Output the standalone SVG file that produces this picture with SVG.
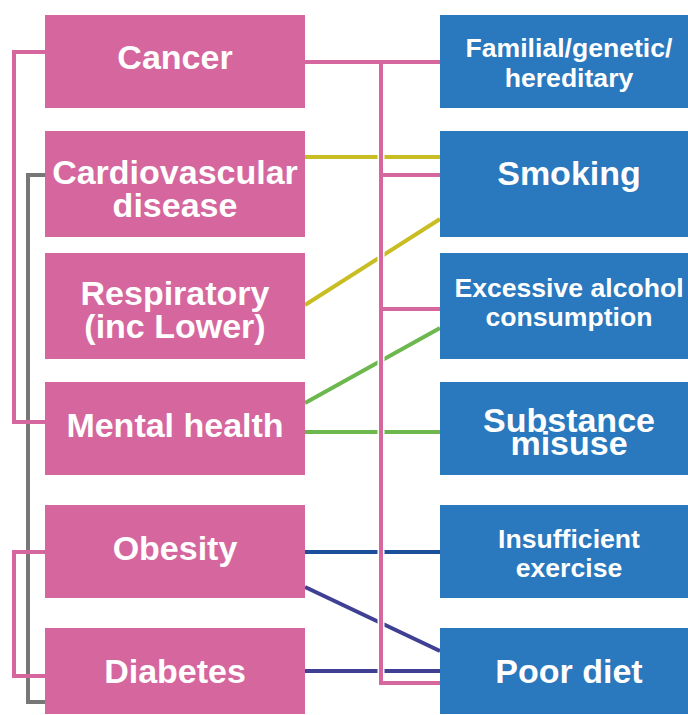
<svg xmlns="http://www.w3.org/2000/svg" width="688" height="715" viewBox="0 0 688 715">
<style>
.l{fill:#d5679e}
.r{fill:#2a78bd}
text{fill:#fff;font-family:"Liberation Sans",Arial,sans-serif;font-weight:bold;text-anchor:middle}
.b{font-size:34px}
.s{font-size:26.6px}
.c{fill:none;stroke-width:4}
.pk{stroke:#d5679e}
.pw{stroke:#fff;stroke-width:7}
</style>
<rect width="688" height="715" fill="#fff"/>
<g id="connectors">
<path class="c" stroke="#777" d="M45,175H28V702H45"/>
<path class="c pk" d="M45,52H14V422H45"/>
<path class="c pk" d="M45,552H14V676H45"/>
<line class="c" stroke="#c8bd22" x1="305" y1="157" x2="440" y2="157"/>
<line class="c" stroke="#c8bd22" x1="305" y1="305" x2="440" y2="219"/>
<line class="c" stroke="#6cb84f" x1="305" y1="403" x2="440" y2="328"/>
<line class="c" stroke="#6cb84f" x1="305" y1="432" x2="440" y2="432"/>
<line class="c" stroke="#1b4f9c" x1="305" y1="552" x2="440" y2="552"/>
<line class="c" stroke="#3f3f93" x1="305" y1="587" x2="440" y2="651"/>
<line class="c" stroke="#3f3f93" x1="305" y1="671" x2="440" y2="671"/>
<path class="c pw" d="M381,62V683H440M381,175H440M381,309H440"/>
<path class="c pk" d="M305,62H381V683H440M381,175H440M381,309H440M381,62H440"/>
</g>
<g id="cancer"><rect class="l" x="45" y="15" width="260" height="93"/><text class="b" x="175" y="69">Cancer</text></g>
<g id="cardiovascular"><rect class="l" x="45" y="131" width="260" height="106"/><text class="b" x="175" y="184">Cardiovascular</text><text class="b" x="175" y="217">disease</text></g>
<g id="respiratory"><rect class="l" x="45" y="253" width="260" height="106"/><text class="b" x="175" y="305">Respiratory</text><text class="b" x="175" y="338">(inc Lower)</text></g>
<g id="mental"><rect class="l" x="45" y="382" width="260" height="93"/><text class="b" x="175" y="437">Mental health</text></g>
<g id="obesity"><rect class="l" x="45" y="505" width="260" height="93"/><text class="b" x="175" y="560">Obesity</text></g>
<g id="diabetes"><rect class="l" x="45" y="628" width="260" height="86"/><text class="b" x="175" y="683">Diabetes</text></g>
<g id="familial"><rect class="r" x="440" y="15" width="248" height="93"/><text class="s" x="569" y="57">Familial/genetic/</text><text class="s" x="569" y="87">hereditary</text></g>
<g id="smoking"><rect class="r" x="440" y="131" width="248" height="106"/><text class="b" x="569" y="185">Smoking</text></g>
<g id="alcohol"><rect class="r" x="440" y="253" width="248" height="106"/><text class="s" x="569" y="297">Excessive alcohol</text><text class="s" x="569" y="326">consumption</text></g>
<g id="substance"><rect class="r" x="440" y="382" width="248" height="93"/><text class="b" x="569" y="432">Substance</text><text class="b" x="569" y="455">misuse</text></g>
<g id="exercise"><rect class="r" x="440" y="505" width="248" height="93"/><text class="s" x="569" y="548">Insufficient</text><text class="s" x="569" y="577">exercise</text></g>
<g id="poordiet"><rect class="r" x="440" y="628" width="248" height="86"/><text class="b" x="569" y="683">Poor diet</text></g>
</svg>
